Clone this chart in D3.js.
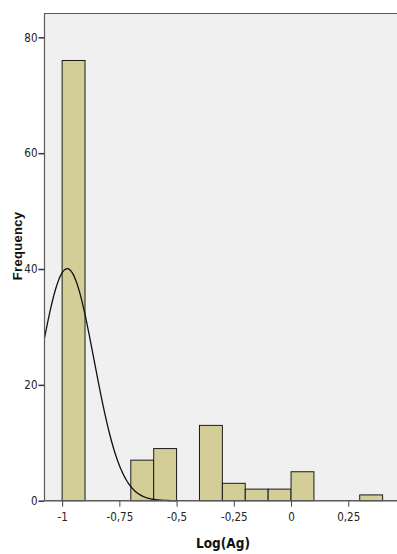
<!DOCTYPE html>
<html>
<head>
<meta charset="utf-8">
<script src="https://cdn.jsdelivr.net/npm/d3@7/dist/d3.min.js"></script>
<style>
  html, body { margin: 0; padding: 0; background: #ffffff; }
  svg { display: block; }
  .tick text { font-family: "Liberation Sans Narrow", "Arial Narrow", "DejaVu Sans Condensed", sans-serif; font-size: 11.5px; fill: #222; }
</style>
</head>
<body>
<svg id="chart" width="397" height="554"></svg>
<script>
// Histogram of Log(Ag): bins of width 0.1 starting at -1
const binStarts = [-1.0, -0.9, -0.8, -0.7, -0.6, -0.5, -0.4, -0.3, -0.2, -0.1, 0.0, 0.1, 0.2, 0.3];
const frequencies = [76, 0, 0, 7, 9, 0, 13, 3, 2, 2, 5, 0, 0, 1];
const binWidth = 0.1;

// Fitted normal curve parameters
const curveMean = -0.978;
const curveSD = 0.1175;
const curveN = 118;

// Axis ticks
const xTicks = [-1, -0.75, -0.5, -0.25, 0, 0.25];
const xTickLabels = ["-1", "-0,75", "-0,5", "-0,25", "0", "0,25"];
const yTicks = [0, 20, 40, 60, 80];

const svg = d3.select("#chart");
const plotLeft = 44.5, plotRight = 397, plotTop = 13, plotBottom = 500.7;

const x = d3.scaleLinear().domain([-1.077, 0.4585]).range([plotLeft, 396]);
const y = d3.scaleLinear().domain([0, 84.2]).range([plotBottom, plotTop]);

// Plot background
svg.append("rect")
  .attr("x", plotLeft).attr("y", plotTop)
  .attr("width", plotRight - plotLeft).attr("height", plotBottom - plotTop)
  .attr("fill", "#f0f0f0");

// Top border
svg.append("line")
  .attr("x1", plotLeft).attr("x2", plotRight)
  .attr("y1", plotTop + 0.5).attr("y2", plotTop + 0.5)
  .attr("stroke", "#5a5a5a").attr("stroke-width", 1.2);

// Bars
const bins = binStarts.map((s, i) => ({ start: s, count: frequencies[i] })).filter(d => d.count > 0);
svg.append("g").selectAll("rect")
  .data(bins)
  .enter().append("rect")
  .attr("x", d => x(d.start))
  .attr("y", d => y(d.count))
  .attr("width", d => x(d.start + binWidth) - x(d.start))
  .attr("height", d => y(0) - y(d.count))
  .attr("fill", "#d3ce98")
  .attr("stroke", "#1a1a1a")
  .attr("stroke-width", 1);

// Normal curve scaled to the histogram counts
const pdf = v => Math.exp(-((v - curveMean) ** 2) / (2 * curveSD * curveSD)) / (curveSD * Math.sqrt(2 * Math.PI));
const curvePts = d3.range(x.domain()[0], -0.5, 0.004).map(v => [v, curveN * binWidth * pdf(v)]);
svg.append("path")
  .datum(curvePts)
  .attr("fill", "none")
  .attr("stroke", "#111")
  .attr("stroke-width", 1.3)
  .attr("d", d3.line().x(d => x(d[0])).y(d => y(d[1])).curve(d3.curveBasis));

// X axis
const xAxis = svg.append("g")
  .attr("transform", `translate(0,${plotBottom})`)
  .call(d3.axisBottom(x).tickValues(xTicks).tickFormat((d, i) => xTickLabels[i]).tickSize(6).tickSizeOuter(0));
xAxis.select(".domain").remove();
xAxis.append("line")
  .attr("x1", plotLeft).attr("x2", plotRight).attr("y1", 0).attr("y2", 0)
  .attr("stroke", "#5a5a5a").attr("stroke-width", 1.5);
xAxis.selectAll(".tick line").attr("stroke", "#444").attr("stroke-width", 1);
xAxis.selectAll(".tick text").attr("dy", "1.05em").attr("y", 8);

// Y axis
const yAxis = svg.append("g")
  .attr("transform", `translate(${plotLeft},0)`)
  .call(d3.axisLeft(y).tickValues(yTicks).tickSize(6).tickSizeOuter(0));
yAxis.select(".domain").remove();
yAxis.append("line")
  .attr("x1", 0).attr("x2", 0).attr("y1", plotTop).attr("y2", plotBottom)
  .attr("stroke", "#5a5a5a").attr("stroke-width", 1.2);
yAxis.selectAll(".tick line").attr("stroke", "#333").attr("stroke-width", 1.5);
yAxis.selectAll(".tick text").attr("x", -7);

// Axis titles
svg.append("text")
  .attr("x", 223).attr("y", 548)
  .attr("text-anchor", "middle")
  .attr("font-family", "'Liberation Sans Narrow', 'Arial Narrow', 'DejaVu Sans Condensed', sans-serif")
  .attr("font-weight", "bold")
  .attr("font-size", 13.5)
  .attr("fill", "#111")
  .text("Log(Ag)");

svg.append("text")
  .attr("transform", "translate(22,246) rotate(-90)")
  .attr("text-anchor", "middle")
  .attr("font-family", "'Liberation Sans', Arial, sans-serif")
  .attr("font-weight", "bold")
  .attr("font-size", 13)
  .attr("letter-spacing", 0.3)
  .attr("fill", "#111")
  .text("Frequency");
</script>
</body>
</html>
